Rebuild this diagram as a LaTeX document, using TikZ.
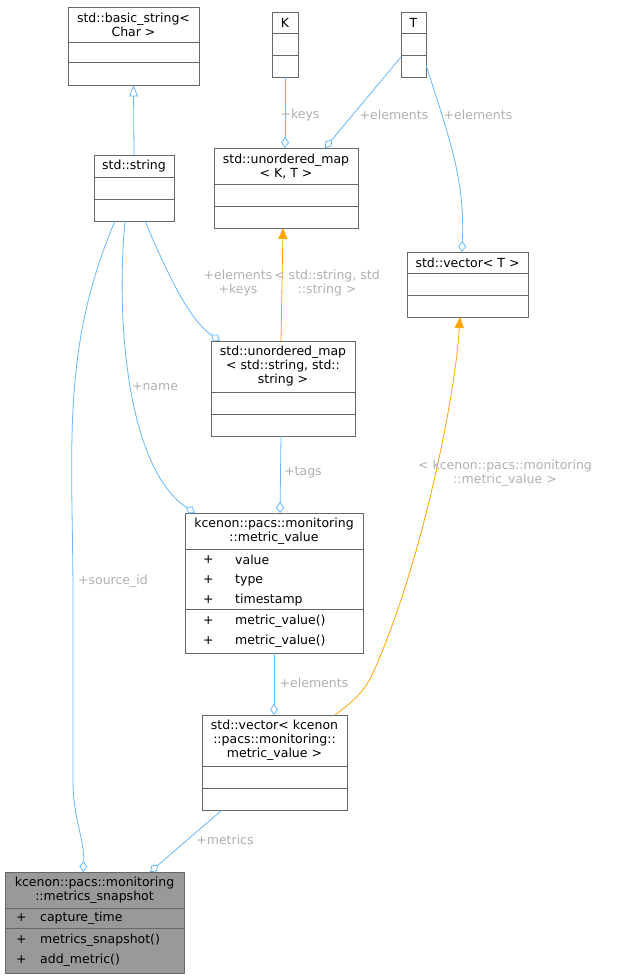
\documentclass[tikz,border=0pt]{standalone}
\usepackage{fontspec}
\setmainfont{DejaVu Sans}
\usetikzlibrary{arrows.meta}
\definecolor{edgeblue}{HTML}{63B8FF}
\definecolor{edgeorange}{HTML}{FFA500}
\definecolor{labelgrey}{HTML}{B0B0B0}
\definecolor{boxline}{HTML}{666666}
\begin{document}
\begin{tikzpicture}[x=1pt, y=-1pt, font=\fontsize{12.5}{14}\selectfont,
                cls/.style={draw=boxline, line width=0.8pt, rectangle, inner sep=0pt},
                title/.style={align=center, inner sep=0pt},
                member/.style={anchor=west, inner sep=0pt},
                sep/.style={draw=boxline, line width=0.8pt},
                use/.style={draw=edgeblue, line width=0.8pt, -{Diamond[open, length=11pt, width=8pt]}},
                inherit/.style={draw=edgeblue, line width=0.8pt, -{Triangle[open, length=11pt, width=9pt]}},
                bind/.style={draw=edgeorange, line width=0.8pt, -{Triangle[length=11pt, width=9pt]}},
                lbl/.style={text=labelgrey, align=center, inner sep=1pt}
              ]
  \useasboundingbox (0,0) rectangle (620,979);
  % classes
  \node[cls, minimum width=131pt, minimum height=78pt] (bstr) at (133.5,46) {};
  \node[title] at (133.5,25) {std::basic\_string<\\Char >};
  \draw[sep] (68,42) -- (199,42) (68,62) -- (199,62);

  \node[cls, minimum width=26pt, minimum height=65pt] (K) at (285,44.5) {};
  \node[title] at (285,22.5) {K};
  \draw[sep] (272,33) -- (298,33) (272,55) -- (298,55);

  \node[cls, minimum width=25pt, minimum height=65pt] (T) at (413.5,44.5) {};
  \node[title] at (413.5,22.5) {T};
  \draw[sep] (401,33) -- (426,33) (401,55) -- (426,55);

  \node[cls, minimum width=80pt, minimum height=66pt] (str) at (134,188) {};
  \node[title] at (134,166) {std::string};
  \draw[sep] (94,177) -- (174,177) (94,199) -- (174,199);

  \node[cls, minimum width=144pt, minimum height=80pt] (umap) at (286,188) {};
  \node[title] at (286,166) {std::unordered\_map\\< K, T >};
  \draw[sep] (214,184) -- (358,184) (214,206) -- (358,206);

  \node[cls, minimum width=121pt, minimum height=65pt] (vecT) at (467.5,284.5) {};
  \node[title] at (467.5,262.5) {std::vector< T >};
  \draw[sep] (407,273) -- (528,273) (407,295) -- (528,295);

  \node[cls, minimum width=144pt, minimum height=95pt] (umapss) at (283,388.5) {};
  \node[title] at (283,366.5) {std::unordered\_map\\< std::string, std::\\string >};
  \draw[sep] (211,392) -- (355,392) (211,414) -- (355,414);

  \node[cls, minimum width=178pt, minimum height=140pt] (mval) at (274,583) {};
  \node[title] at (274,531) {kcenon::pacs::monitoring\\::metric\_value};
  \draw[sep] (185,549) -- (363,549) (185,609) -- (363,609);
  \foreach \y/\t in {560/value, 580/type, 600/timestamp, 621/metric\_value(), 641/metric\_value()} {
    \node[member] at (203,\y) {+};
    \node[member] at (235,\y) {\t};
  }

  \node[cls, minimum width=145pt, minimum height=95pt] (vecmv) at (274.5,762.5) {};
  \node[title] at (274.5,740.5) {std::vector< kcenon\\::pacs::monitoring::\\metric\_value >};
  \draw[sep] (202,766) -- (347,766) (202,788) -- (347,788);

  \node[cls, fill=black!40, minimum width=179pt, minimum height=101pt] (snap) at (94.5,922.5) {};
  \node[title] at (94.5,890) {kcenon::pacs::monitoring\\::metrics\_snapshot};
  \draw[sep] (5,908) -- (184,908) (5,928) -- (184,928);
  \foreach \y/\t in {918/capture\_time, 940/metrics\_snapshot(), 960/add\_metric()} {
    \node[member] at (16,\y) {+};
    \node[member] at (40,\y) {\t};
  }

  % relations
  \draw[inherit] (str.north) -- (bstr.south);
  \draw[use] (K.south) -- (285,148);
  \draw[use] (401,57) -- (325,148);
  \draw[use] (426,65) .. controls (450,140) and (465,180) .. (462,252);
  \draw[bind] (281,341) -- (283,228);
  \draw[use] (145,221) .. controls (170,280) and (190,320) .. (220,341);
  \draw[use] (125,221) .. controls (115,330) and (130,470) .. (195,513);
  \draw[use] (115,221) .. controls (60,350) and (73,450) .. (73,600) -- (73,780) .. controls (73,820) and (85,840) .. (83,872);
  \draw[use] (281,436) -- (280,513);
  \draw[use] (274,653) -- (274,715);
  \draw[bind] (335,715) .. controls (355,700) and (365,690) .. (372,675) .. controls (420,570) and (455,400) .. (460,317);
  \draw[use] (222,810) -- (150,872);

  % labels
  \node[lbl] at (300,115) {+keys};
  \node[lbl] at (394,115) {+elements};
  \node[lbl] at (478,115) {+elements};
  \node[lbl] at (327,283) {< std::string, std\\::string >};
  \node[lbl] at (238,283) {+elements\\+keys};
  \node[lbl] at (155,387) {+name};
  \node[lbl] at (113,581) {+source\_id};
  \node[lbl] at (303,472) {+tags};
  \node[lbl] at (314,683) {+elements};
  \node[lbl] at (505,473) {< kcenon::pacs::monitoring\\::metric\_value >};
  \node[lbl] at (225,840) {+metrics};
\end{tikzpicture}
\end{document}
